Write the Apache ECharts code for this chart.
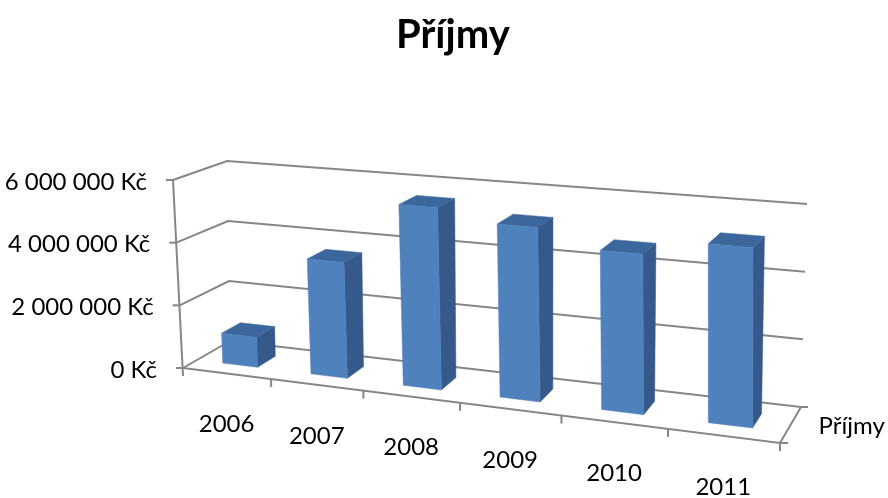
<!DOCTYPE html>
<html>
<head>
<meta charset="utf-8">
<script src="https://cdn.jsdelivr.net/npm/echarts@6/dist/echarts.min.js"></script>
<style>
  html, body { margin: 0; padding: 0; background: #fff; }
  #chart { width: 888px; height: 498px; }
</style>
</head>
<body>
<div id="chart"></div>
<script>
const years = ['2006', '2007', '2008', '2009', '2010', '2011'];
const prijmy = [960000, 3630000, 5600000, 5260000, 4740000, 5220000];
const yTicks = [0, 2000000, 4000000, 6000000];
const yLabels = ['0 Kč', '2 000 000 Kč', '4 000 000 Kč', '6 000 000 Kč'];
const seriesName = 'Příjmy';

// corners of the 3d box (floor = 0, top = 6M), front and back
const F0L = [183, 368], F0R = [780, 443], B0L = [230, 341], B0R = [801, 407];
const F6L = [173, 180], F6R = [779, 232], B6L = [227, 161], B6R = [807, 204];
const PERSP = -0.134;
const GRID_COLOR = '#868686';
const FONT = 'Lato';

const lerp = (a, b, t) => [a[0] + (b[0] - a[0]) * t, a[1] + (b[1] - a[1]) * t];
// u: along categories 0..1, v: value fraction 0..1, d: depth 0 (front)..1 (back)
function proj(u, v, d) {
  const s = u * (1 + PERSP) / (1 + PERSP * u);
  const front = lerp(lerp(F0L, F0R, s), lerp(F6L, F6R, s), v);
  const back = lerp(lerp(B0L, B0R, s), lerp(B6L, B6R, s), v);
  return lerp(front, back, d);
}
const line = (pts) => ({
  type: 'polyline',
  shape: { points: pts },
  style: { stroke: GRID_COLOR, lineWidth: 2, fill: null }
});
const label = (txt, x, y, align) => ({
  type: 'text',
  x: x, y: y,
  style: { text: txt, fill: '#000', fontSize: 24, fontFamily: FONT, align: align, verticalAlign: 'middle' }
});

const chart = echarts.init(document.getElementById('chart'));

chart.setOption({
  animation: false,
  title: {
    text: seriesName,
    left: 396, top: 15, padding: 0,
    textStyle: { fontFamily: FONT, fontSize: 40, fontWeight: 'bold', color: '#000' }
  },
  grid: { left: 183, right: 108, top: 180, bottom: 130 },
  xAxis: { type: 'category', data: years, show: false },
  yAxis: { type: 'value', min: 0, max: 6000000, interval: 2000000, show: false },
  series: [
    {
      // walls, gridlines and value labels
      type: 'custom',
      coordinateSystem: 'cartesian2d',
      z: 1,
      data: yTicks.map((t, i) => [0, t, i]),
      renderItem: (params, api) => {
        const cs = params.coordSys;
        const c = api.coord([0, api.value(1)]);
        const v = (cs.y + cs.height - c[1]) / cs.height;
        const a = proj(0, v, 0);
        const children = [
          line([a, proj(0, v, 1), proj(1, v, 1)]),
          line([[a[0] - 7, a[1]], a]),
          label(yLabels[api.value(2)], a[0] - 26, a[1] + 2, 'right')
        ];
        if (api.value(1) === 0) {
          const fr = proj(1, 0, 0), br = proj(1, 0, 1);
          children.push(line([a, fr, br]));
          children.push(line([[a[0], a[1] + 8], proj(0, 1, 0)]));
          children.push(line([fr, [fr[0] + 8, fr[1]]]));
          children.push(line([br, [br[0] + 7, br[1]]]));
          const m = proj(1, 0, 0.5);
          children.push(label(seriesName, m[0] + 28, m[1] + 1, 'left'));
        }
        return { type: 'group', children: children };
      }
    },
    {
      // category ticks and labels along the front floor edge
      type: 'custom',
      coordinateSystem: 'cartesian2d',
      z: 2,
      data: years.map((y, i) => [i, 0]),
      renderItem: (params, api) => {
        const cs = params.coordSys;
        const i = api.value(0);
        const c = api.coord([i, 0]);
        const w = api.size([1, 0])[0] / cs.width;
        const uc = (c[0] - cs.x) / cs.width;
        const mid = proj(uc, 0, 0);
        const t1 = proj(uc + w / 2, 0, 0);
        return {
          type: 'group',
          children: [
            label(years[i], mid[0], mid[1] + 51, 'center'),
            line([t1, [t1[0], t1[1] + 8]])
          ]
        };
      }
    },
    {
      name: seriesName,
      type: 'custom',
      coordinateSystem: 'cartesian2d',
      z: 3,
      data: prijmy.map((v, i) => [i, v]),
      renderItem: (params, api) => {
        const cs = params.coordSys;
        const c = api.coord([api.value(0), api.value(1)]);
        const w = api.size([1, 0])[0] / cs.width;
        const uc = (c[0] - cs.x) / cs.width;
        const v = (cs.y + cs.height - c[1]) / cs.height;
        const u0 = uc - 0.2 * w, u1 = uc + 0.2 * w;
        const d0 = 0.3, d1 = 0.7;
        const poly = (pts, fill) => ({
          type: 'polygon',
          shape: { points: pts },
          style: { fill: fill, stroke: fill, lineWidth: 0.5 }
        });
        return {
          type: 'group',
          children: [
            poly([proj(u1, 0, d0), proj(u1, 0, d1), proj(u1, v, d1), proj(u1, v, d0)], '#34598a'),
            poly([proj(u0, v, d0), proj(u1, v, d0), proj(u1, v, d1), proj(u0, v, d1)], '#3c679c'),
            poly([proj(u0, 0, d0), proj(u1, 0, d0), proj(u1, v, d0), proj(u0, v, d0)], '#4f81bd')
          ]
        };
      }
    }
  ]
});
</script>
</body>
</html>
